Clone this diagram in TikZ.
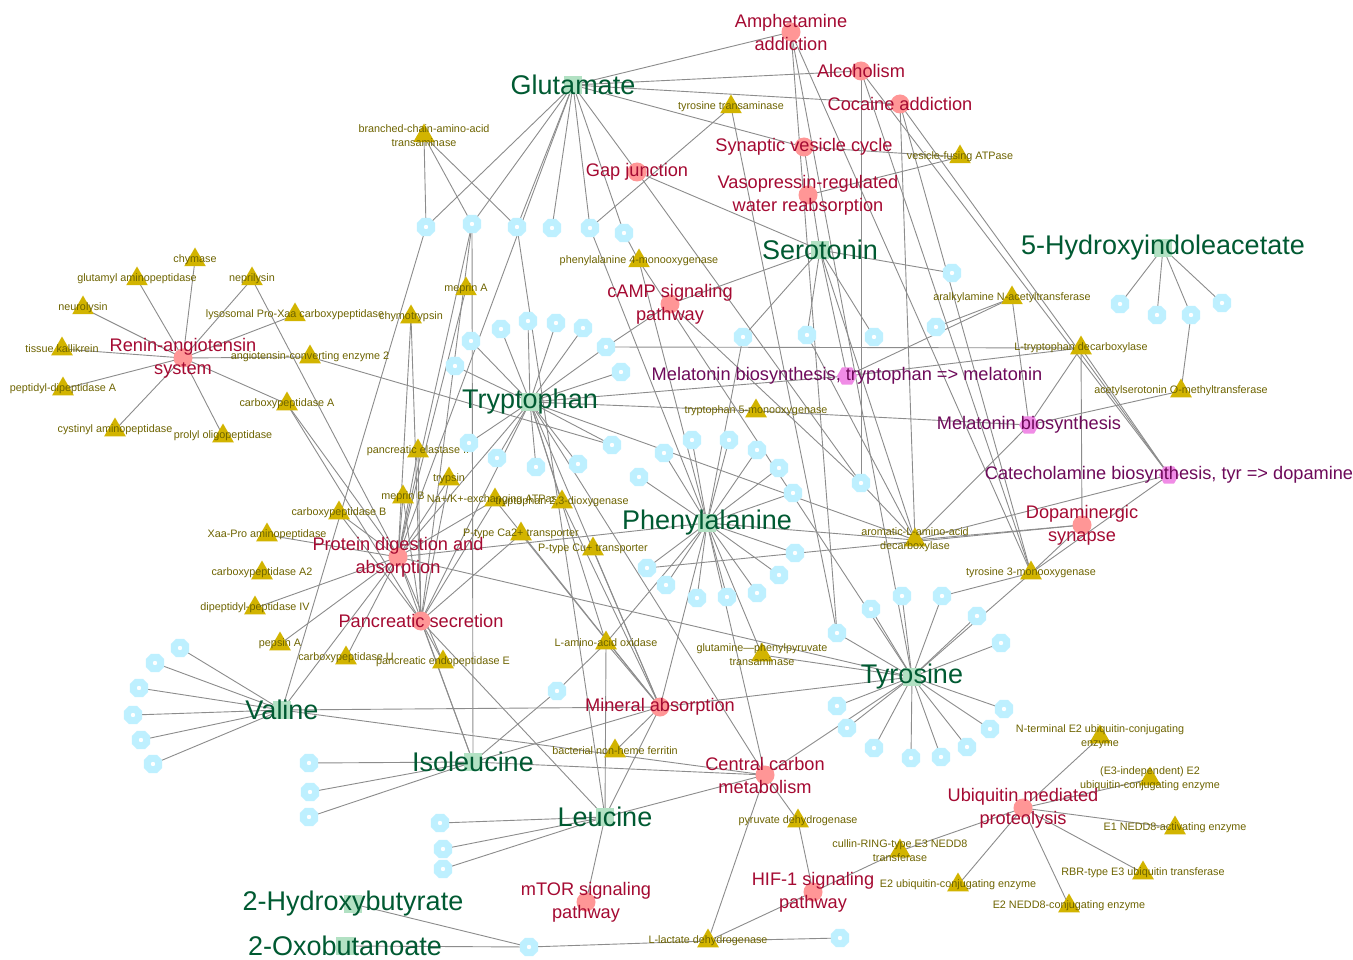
\documentclass[tikz,border=0pt]{standalone}
\usepackage{fontspec}
\setmainfont{Liberation Sans}
\usetikzlibrary{shapes.geometric}
\pgfdeclarelayer{bg}
\pgfsetlayers{bg,main}
\definecolor{cpdfill}{RGB}{178,225,195}
\definecolor{cpdtext}{RGB}{0,90,50}
\definecolor{pwfill}{RGB}{255,150,150}
\definecolor{pwtext}{RGB}{165,10,50}
\definecolor{modfill}{RGB}{240,140,230}
\definecolor{modtext}{RGB}{110,10,90}
\definecolor{enzfill}{RGB}{210,180,0}
\definecolor{enztext}{RGB}{110,100,0}
\definecolor{unkfill}{RGB}{190,240,255}
\definecolor{edgecol}{RGB}{140,140,140}
\tikzset{
  cmpd/.style={rectangle, fill=cpdfill, minimum size=18, inner sep=0},
  cmpdtxt/.style={text=cpdtext, font=\fontsize{27}{29}\selectfont, inner sep=0},
  pway/.style={circle, fill=pwfill, minimum size=19, inner sep=0},
  pwaytxt/.style={text=pwtext, font=\fontsize{18.2}{23}\selectfont, align=center, inner sep=0},
  modl/.style={regular polygon, regular polygon sides=6, fill=modfill, minimum size=20, inner sep=0},
  modltxt/.style={text=modtext, font=\fontsize{18.2}{23}\selectfont, inner sep=0},
  enz/.style={regular polygon, regular polygon sides=3, fill=enzfill, minimum size=25, inner sep=0},
  enztxt/.style={text=enztext, font=\fontsize{10.8}{14}\selectfont, align=center, inner sep=0},
  unk/.style={regular polygon, regular polygon sides=8, fill=unkfill, minimum size=20, inner sep=0,
    path picture={\fill[white] (path picture bounding box.center) circle (2.2);}},
  lnk/.style={draw=edgecol, line width=0.9}
}
\begin{document}
\begin{tikzpicture}[x=1pt,y=-1pt]
\useasboundingbox (0,0) rectangle (1353,960);

%%% compounds
\node[cmpd, label={[cmpdtxt]center:Glutamate}] (glu) at (573,85) {};
\node[cmpd, label={[cmpdtxt]center:Serotonin}] (ser) at (820,250) {};
\node[cmpd, label={[cmpdtxt]center:5-Hydroxyindoleacetate}] (hiaa) at (1163,248) {};
\node[cmpd, label={[cmpdtxt]center:Tryptophan}] (trp) at (530,402) {};
\node[cmpd, label={[cmpdtxt]center:Phenylalanine}] (phe) at (707,523) {};
\node[cmpd, label={[cmpdtxt]center:Tyrosine}] (tyr) at (912,677) {};
\node[cmpd, label={[cmpdtxt]center:Valine}] (val) at (282,710) {};
\node[cmpd, label={[cmpdtxt]center:Isoleucine}] (ile) at (473,762) {};
\node[cmpd, label={[cmpdtxt]center:Leucine}] (leu) at (605,817) {};
\node[cmpd, label={[cmpdtxt]center:2-Hydroxybutyrate}] (hbut) at (353,904) {};
\node[cmpd, label={[cmpdtxt]center:2-Oxobutanoate}] (oxob) at (345,946) {};

%%% pathways
\node[pway, label={[pwaytxt]center:Amphetamine\\addiction}] (amph) at (791,32) {};
\node[pway, label={[pwaytxt]center:Alcoholism}] (alco) at (861,71) {};
\node[pway, label={[pwaytxt]center:Cocaine addiction}] (coca) at (900,104) {};
\node[pway, label={[pwaytxt]center:Synaptic vesicle cycle}] (synv) at (804,147) {};
\node[pway, label={[pwaytxt]center:Vasopressin-regulated\\water reabsorption}] (vaso) at (808,195) {};
\node[pway, label={[pwaytxt]center:Gap junction}] (gap) at (637,172) {};
\node[pway, label={[pwaytxt]center:cAMP signaling\\pathway}] (camp) at (670,304) {};
\node[pway, label={[pwaytxt]center:Renin-angiotensin\\system}] (renin) at (183,358) {};
\node[pway, label={[pwaytxt]center:Protein digestion and\\absorption}] (prot) at (398,557) {};
\node[pway, label={[pwaytxt]center:Pancreatic secretion}] (panc) at (421,621) {};
\node[pway, label={[pwaytxt]center:Mineral absorption}] (mine) at (660,707) {};
\node[pway, label={[pwaytxt]center:Central carbon\\metabolism}] (ccm) at (765,775) {};
\node[pway, label={[pwaytxt]center:mTOR signaling\\pathway}] (mtor) at (586,902) {};
\node[pway, label={[pwaytxt]center:HIF-1 signaling\\pathway}] (hif) at (813,892) {};
\node[pway, label={[pwaytxt]center:Ubiquitin mediated\\proteolysis}] (ubi) at (1023,808) {};
\node[pway, label={[pwaytxt]center:Dopaminergic\\synapse}] (dopa) at (1082,525) {};

%%% modules
\node[modl, label={[modltxt]center:Melatonin biosynthesis, tryptophan => melatonin}] (melt) at (847,376) {};
\node[modl, label={[modltxt]center:Melatonin biosynthesis}] (melb) at (1029,425) {};
\node[modl, label={[modltxt]center:Catecholamine biosynthesis, tyr => dopamine}] (cat) at (1169,475) {};

%%% enzymes
\node[enz, label={[enztxt]center:chymase}] (chy) at (195,260) {};
\node[enz, label={[enztxt]center:glutamyl aminopeptidase}] (gam) at (137,279) {};
\node[enz, label={[enztxt]center:neprilysin}] (nep) at (252,279) {};
\node[enz, label={[enztxt]center:neurolysin}] (neu) at (83,308) {};
\node[enz, label={[enztxt]center:lysosomal Pro-Xaa carboxypeptidase}] (lpx) at (295,315) {};
\node[enz, label={[enztxt]center:chymotrypsin}] (ctr) at (411,317) {};
\node[enz, label={[enztxt]center:meprin A}] (mpa) at (466,289) {};
\node[enz, label={[enztxt]center:tissue kallikrein}] (tka) at (62,349) {};
\node[enz, label={[enztxt]center:angiotensin-converting enzyme 2}] (ace) at (310,357) {};
\node[enz, label={[enztxt]center:peptidyl-dipeptidase A}] (pda) at (63,389) {};
\node[enz, label={[enztxt]center:carboxypeptidase A}] (cpa) at (287,404) {};
\node[enz, label={[enztxt]center:cystinyl aminopeptidase}] (cap) at (115,430) {};
\node[enz, label={[enztxt]center:prolyl oligopeptidase}] (pop) at (223,436) {};
\node[enz, label={[enztxt]center:pancreatic elastase II}] (pe2) at (418,451) {};
\node[enz, label={[enztxt]center:trypsin}] (try) at (449,479) {};
\node[enz, label={[enztxt]center:meprin B}] (mpb) at (403,497) {};
\node[enz, label={[enztxt]center:Na+/K+-exchanging ATPase}] (nak) at (495,500) {};
\node[enz, label={[enztxt]center:tryptophan 2,3-dioxygenase}] (tdo) at (562,502) {};
\node[enz, label={[enztxt]center:carboxypeptidase B}] (cpb) at (339,513) {};
\node[enz, label={[enztxt]center:Xaa-Pro aminopeptidase}] (xpa) at (267,535) {};
\node[enz, label={[enztxt]center:P-type Ca2+ transporter}] (pca) at (521,534) {};
\node[enz, label={[enztxt]center:P-type Cu+ transporter}] (pcu) at (593,549) {};
\node[enz, label={[enztxt]center:carboxypeptidase A2}] (ca2) at (262,573) {};
\node[enz, label={[enztxt]center:dipeptidyl-peptidase IV}] (dpp) at (255,608) {};
\node[enz, label={[enztxt]center:pepsin A}] (pep) at (280,644) {};
\node[enz, label={[enztxt]center:carboxypeptidase U}] (cpu) at (346,658) {};
\node[enz, label={[enztxt]center:pancreatic endopeptidase E}] (pee) at (443,662) {};
\node[enz, label={[enztxt]center:L-amino-acid oxidase}] (lao) at (606,643) {};
\node[enz, label={[enztxt]center:glutamine---phenylpyruvate\\transaminase}] (gpt) at (762,655) {};
\node[enz, label={[enztxt]center:bacterial non-heme ferritin}] (fer) at (615,751) {};
\node[enz, label={[enztxt]center:pyruvate dehydrogenase}] (pdh) at (798,821) {};
\node[enz, label={[enztxt]center:cullin-RING-type E3 NEDD8\\transferase}] (cul) at (900,851) {};
\node[enz, label={[enztxt]center:E2 ubiquitin-conjugating enzyme}] (e2u) at (958,885) {};
\node[enz, label={[enztxt]center:E2 NEDD8-conjugating enzyme}] (e2n) at (1069,906) {};
\node[enz, label={[enztxt]center:RBR-type E3 ubiquitin transferase}] (rbr) at (1143,873) {};
\node[enz, label={[enztxt]center:E1 NEDD8-activating enzyme}] (e1n) at (1175,828) {};
\node[enz, label={[enztxt]center:(E3-independent) E2\\ubiquitin-conjugating enzyme}] (e3i) at (1150,779) {};
\node[enz, label={[enztxt]center:N-terminal E2 ubiquitin-conjugating\\enzyme}] (nte) at (1100,737) {};
\node[enz, label={[enztxt]center:L-lactate dehydrogenase}] (ldh) at (708,941) {};
\node[enz, label={[enztxt]center:tyrosine 3-monooxygenase}] (t3m) at (1031,573) {};
\node[enz, label={[enztxt]center:aromatic-L-amino-acid\\decarboxylase}] (aad) at (915,540) {};
\node[enz, label={[enztxt]center:tryptophan 5-monooxygenase}] (t5m) at (756,411) {};
\node[enz, label={[enztxt]center:L-tryptophan decarboxylase}] (ltd) at (1081,348) {};
\node[enz, label={[enztxt]center:acetylserotonin O-methyltransferase}] (asm) at (1181,391) {};
\node[enz, label={[enztxt]center:aralkylamine N-acetyltransferase}] (aan) at (1012,298) {};
\node[enz, label={[enztxt]center:phenylalanine 4-monooxygenase}] (p4m) at (639,261) {};
\node[enz, label={[enztxt]center:tyrosine transaminase}] (tat) at (731,107) {};
\node[enz, label={[enztxt]center:branched-chain-amino-acid\\transaminase}] (bca) at (424,136) {};
\node[enz, label={[enztxt]center:vesicle-fusing ATPase}] (vfa) at (960,157) {};

%%% other compounds
\foreach \n/\x/\y in {ca1/426/227, ca2/472/224, ca3/517/227, ca4/552/228, ca5/590/228, ca6/624/233,
  cs1/952/273, ch1/1120/304, ch2/1157/315, ch3/1191/315, ch4/1222/303,
  ct1/471/341, ct2/501/329, ct3/528/321, ct4/556/323, ct5/583/328, ct6/606/347, ct7/621/372,
  ct8/455/366, ct9/469/443, ct10/497/458, ct11/536/467, ct12/578/464, ct13/612/445,
  cm1/743/337, cm2/807/335, cm3/874/337, cm4/936/327, cm5/861/483,
  cp1/664/453, cp2/639/477, cp3/692/440, cp4/729/440, cp5/757/450, cp6/779/468, cp7/793/493,
  cp8/795/553, cp9/779/575, cp10/757/593, cp11/727/597, cp12/697/598, cp13/647/568, cp14/666/585,
  cy1/837/633, cy2/871/609, cy3/902/596, cy4/942/596, cy5/977/616, cy6/1001/643, cy7/1004/709,
  cy8/990/729, cy9/967/747, cy10/941/757, cy11/911/758, cy12/874/748, cy13/847/728, cy14/837/706,
  cv1/180/648, cv2/155/663, cv3/139/688, cv4/133/715, cv5/141/740, cv6/153/764,
  ci1/309/763, ci2/310/792, ci3/309/817, cl1/440/823, cl2/443/849, cl3/443/869,
  cq1/557/691, cq2/529/947, cq3/840/938}
  \node[unk] (\n) at (\x,\y) {};

%%% connectors
\begin{pgfonlayer}{bg}
\fill[white] (0,0) rectangle (1353,960);
\foreach \a/\b in {glu/amph, glu/alco, glu/coca, glu/synv, glu/gap, gap/cm5, glu/ca1, glu/ca2, glu/ca3,
  glu/prot, glu/ca4, glu/ca5, glu/ca6, bca/ca1, bca/ca2, bca/ca3, ca1/val, ca2/ile, ca3/leu,
  tat/ca5, tat/cy1, ca5/phe, synv/vfa, vaso/vfa, synv/ser, gap/ser,
  ser/camp, ser/cs1, ser/cm1, ser/cm2, ser/cm3, ser/melt, ser/aad,
  amph/cy1, amph/tyr, amph/t3m, alco/cat, alco/cm5, alco/t3m, coca/cat, coca/aad, coca/t3m,
  camp/cm5, camp/ct6, hiaa/ch1, hiaa/ch2, hiaa/ch3, hiaa/ch4, asm/ch3, asm/melb,
  ltd/melb, ltd/cat, ltd/dopa, ltd/ct6, melt/ltd, aan/melb, aan/cm4, aan/melt, t5m/melb,
  aad/melb, aad/cat, aad/dopa, aad/cm5, aad/cm2, dopa/t3m, dopa/cp13, t3m/cat, t3m/cy4, t3m/tyr,
  p4m/phe, p4m/tyr, p4m/ca6, gpt/phe, gpt/tyr, lao/phe, lao/trp, lao/cq1, lao/mine, lao/leu, cq1/ile}
  \draw[lnk] (\a.center) -- (\b.center);
\foreach \a/\b in {renin/chy, renin/gam, renin/nep, renin/neu, renin/lpx, renin/tka, renin/ace,
  renin/pda, renin/cap, renin/pop, renin/cpa, nep/prot, ace/ct13,
  prot/pep, prot/dpp, prot/ca2, prot/xpa, prot/cpb, prot/cpu, prot/pee, prot/mpb, prot/try, prot/pe2,
  prot/ctr, prot/mpa, prot/cpa, prot/nak, panc/ca2, panc/cpb, panc/pee, panc/try, panc/pe2, panc/ctr,
  panc/cpa, panc/nak, panc/pca, panc/mpb, mine/nak, mine/pca, mine/pcu, mine/fer, trp/tdo, mine/tdo}
  \draw[lnk] (\a.center) -- (\b.center);
\foreach \b in {ct1, ct2, ct3, ct4, ct5, ct6, ct7, ct8, ct9, ct10, ct11, ct12, ct13,
  prot, panc, mine, t5m, melt, aad, ccm}
  \draw[lnk] (trp.center) -- (\b.center);
\foreach \b in {cp1, cp2, cp3, cp4, cp5, cp6, cp7, cp8, cp9, cp10, cp11, cp12, cp13, cp14,
  prot, mine, ccm, aad, cm1}
  \draw[lnk] (phe.center) -- (\b.center);
\foreach \b in {cy1, cy2, cy3, cy4, cy5, cy6, cy7, cy8, cy9, cy10, cy11, cy12, cy13, cy14,
  ccm, prot, mine}
  \draw[lnk] (tyr.center) -- (\b.center);
\foreach \b in {cv1, cv2, cv3, cv4, cv5, cv6, prot, mine, ccm}
  \draw[lnk] (val.center) -- (\b.center);
\foreach \b in {ci1, ci2, ci3, mine, ccm, panc, prot}
  \draw[lnk] (ile.center) -- (\b.center);
\foreach \b in {cl1, cl2, cl3, mtor, mine, ccm, panc}
  \draw[lnk] (leu.center) -- (\b.center);
\foreach \a/\b in {ccm/pdh, ccm/ldh, hif/pdh, hif/ldh, hif/cul, ldh/cq2, ldh/cq3, cq2/hbut, cq2/oxob,
  ubi/cul, ubi/e2u, ubi/e2n, ubi/rbr, ubi/e1n, ubi/e3i, ubi/nte}
  \draw[lnk] (\a.center) -- (\b.center);
\end{pgfonlayer}
\end{tikzpicture}
\end{document}
